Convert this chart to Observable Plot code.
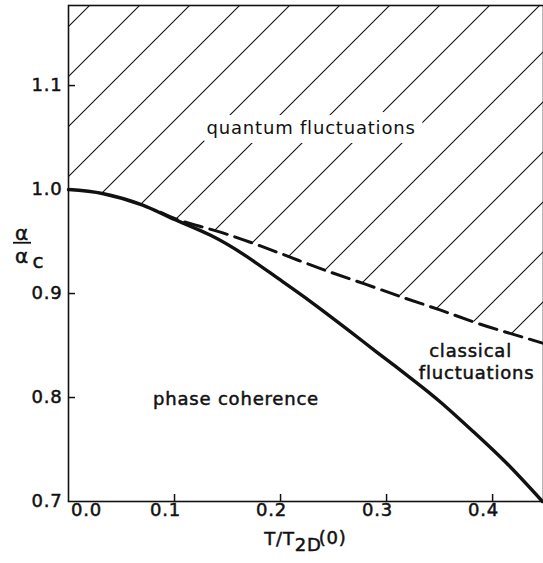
<!DOCTYPE html>
<html>
<head>
<meta charset="utf-8">
<script src="https://cdn.jsdelivr.net/npm/d3@7"></script>
<script src="https://cdn.jsdelivr.net/npm/@observablehq/plot@0.6"></script>
<style>
  html, body { margin: 0; padding: 0; background: white; }
  #chart svg text { stroke: #111; stroke-width: 0.5px; paint-order: stroke; }
  #chart svg text.halo { stroke: white; stroke-width: 18px; stroke-linejoin: round; font-weight: 500; }
</style>
</head>
<body>
<div id="chart"></div>
<script>
// ---- data ----
// phase boundary (solid): T/T2D(0) vs alpha/alpha_c
const solidT = [0, 0.033, 0.070, 0.096, 0.134, 0.169, 0.197, 0.228, 0.263, 0.291, 0.323, 0.351, 0.382, 0.414, 0.447];
const solidA = [1.000, 0.996, 0.985, 0.973, 0.956, 0.935, 0.915, 0.8925, 0.8655, 0.8435, 0.8185, 0.7955, 0.767, 0.736, 0.700];
// crossover (dashed)
const dashT = [0.087, 0.106, 0.140, 0.175, 0.209, 0.243, 0.280, 0.316, 0.351, 0.387, 0.422, 0.448];
const dashA = [0.978, 0.970, 0.960, 0.948, 0.935, 0.922, 0.909, 0.896, 0.884, 0.871, 0.860, 0.852];
// ticks
const xTicks = [0.1, 0.2, 0.3, 0.4];
const xTickZero = [0.0];
const yTickLabels = [0.7, 0.8, 0.9, 1.0, 1.1];
const yTickMarks = [0.8, 0.9, 1.0, 1.1];
// texts
const regionLabels = ["quantum fluctuations", "classical", "fluctuations", "phase coherence"];
const xLabelParts = ["T/T", "2D", "(0)"];
const yLabelParts = ["α", "α", "c"];

const xMax = 0.448, yMin = 0.7, yTop = 1.177;

const solid = solidT.map((t, i) => ({t, a: solidA[i]}));
const dashed = dashT.map((t, i) => ({t, a: dashA[i]}));
const boundary = [...solid.filter(d => d.t < dashT[0]), ...dashed];

const ink = "#111";
const fs = 18;
const yLab = 0.9575;

const plot = Plot.plot({
  width: 543,
  height: 563,
  marginLeft: 68,
  marginRight: 0,
  marginTop: 5,
  marginBottom: 62,
  style: {fontFamily: "DejaVu Sans", fontSize: "18px", color: ink, background: "white", letterSpacing: "0.8px"},
  x: {domain: [0, xMax]},
  y: {domain: [yMin, yTop]},
  marks: [
    // hatched region (quantum fluctuations)
    Plot.areaY(boundary, {x: "t", y1: "a", y2: () => yTop, fill: "url(#hatch)", curve: "natural"}),
    // frame
    Plot.frame({stroke: ink, strokeWidth: 1.6}),
    // inward ticks
    Plot.tickX(xTicks, {x: d => d, insetTop: 489, stroke: ink, strokeWidth: 1.5}),
    Plot.tickY(yTickMarks, {y: d => d, insetRight: 468, stroke: ink, strokeWidth: 1.5}),
    // tick labels
    Plot.axisX(xTicks, {tickSize: 0, tickPadding: 2, dx: -9, tickFormat: d3.format(".1f"), label: null, fontSize: fs}),
    Plot.axisX(xTickZero, {tickSize: 0, tickPadding: 2, dx: 18, tickFormat: d3.format(".1f"), label: null, fontSize: fs}),
    Plot.axisY(yTickLabels, {tickSize: 0, tickPadding: 6, tickFormat: d3.format(".1f"), label: null, fontSize: fs}),
    // curves
    Plot.line(dashed, {x: "t", y: "a", stroke: ink, strokeWidth: 3, strokeDasharray: "18,8", curve: "natural"}),
    Plot.line(solid, {x: "t", y: "a", stroke: ink, strokeWidth: 3.4, curve: "natural"}),
    // region labels
    Plot.text([regionLabels[0]], {x: () => 0.2288, y: () => 1.0587, text: d => d, fontSize: fs, fill: ink, stroke: "white", strokeWidth: 18}),
    Plot.text([regionLabels[1]], {x: () => 0.3792, y: () => 0.8442, text: d => d, fontSize: fs, fill: ink}),
    Plot.text([regionLabels[2]], {x: () => 0.3849, y: () => 0.8231, text: d => d, fontSize: fs, fill: ink}),
    Plot.text([regionLabels[3]], {x: () => 0.158, y: () => 0.798, text: d => d, fontSize: fs, fill: ink}),
    // x axis label T/T_2D(0)
    Plot.text([xLabelParts[0]], {x: () => 0.219, frameAnchor: "bottom", textAnchor: "end", dx: -6, dy: 43, text: d => d, fontSize: fs, fill: ink}),
    Plot.text([xLabelParts[1]], {x: () => 0.219, frameAnchor: "bottom", textAnchor: "start", dx: -6, dy: 49, text: d => d, fontSize: fs, fill: ink}),
    Plot.text([xLabelParts[2]], {x: () => 0.219, frameAnchor: "bottom", textAnchor: "start", dx: 18, dy: 42, text: d => d, fontSize: fs, fill: ink}),
    // y axis label alpha / alpha_c
    Plot.text([yLabelParts[0]], {y: () => yLab, frameAnchor: "left", textAnchor: "middle", dx: -46.5, text: d => d, fontSize: 20, fill: ink}),
    Plot.ruleY([yLab], {y: d => d, dy: 9, dx: -55, insetRight: 457, stroke: ink, strokeWidth: 1.8}),
    Plot.text([yLabelParts[1]], {y: () => yLab, frameAnchor: "left", textAnchor: "middle", dx: -46.5, dy: 23, text: d => d, fontSize: 20, fill: ink}),
    Plot.text([yLabelParts[2]], {y: () => yLab, frameAnchor: "left", textAnchor: "start", dx: -36, dy: 28, text: d => d, fontSize: 20, fill: ink})
  ]
});

// hatch pattern definition
const svgSel = d3.select(plot);
const defs = svgSel.insert("svg:defs", ":first-child");
const pat = defs.append("svg:pattern")
  .attr("id", "hatch")
  .attr("patternUnits", "userSpaceOnUse")
  .attr("x", 45).attr("y", 0)
  .attr("width", 50).attr("height", 50);
pat.append("svg:rect").attr("width", 50).attr("height", 50).attr("fill", "white");
pat.append("svg:path")
  .attr("d", "M-5,5L5,-5M0,50L50,0M45,55L55,45")
  .attr("stroke", ink).attr("stroke-width", 1.1).attr("fill", "none");

// mark the halo label's text so the white outline survives the global text rule
svgSel.selectAll("text").filter(function() { return this.textContent === regionLabels[0]; }).classed("halo", true);

document.getElementById("chart").appendChild(plot);
</script>
</body>
</html>
